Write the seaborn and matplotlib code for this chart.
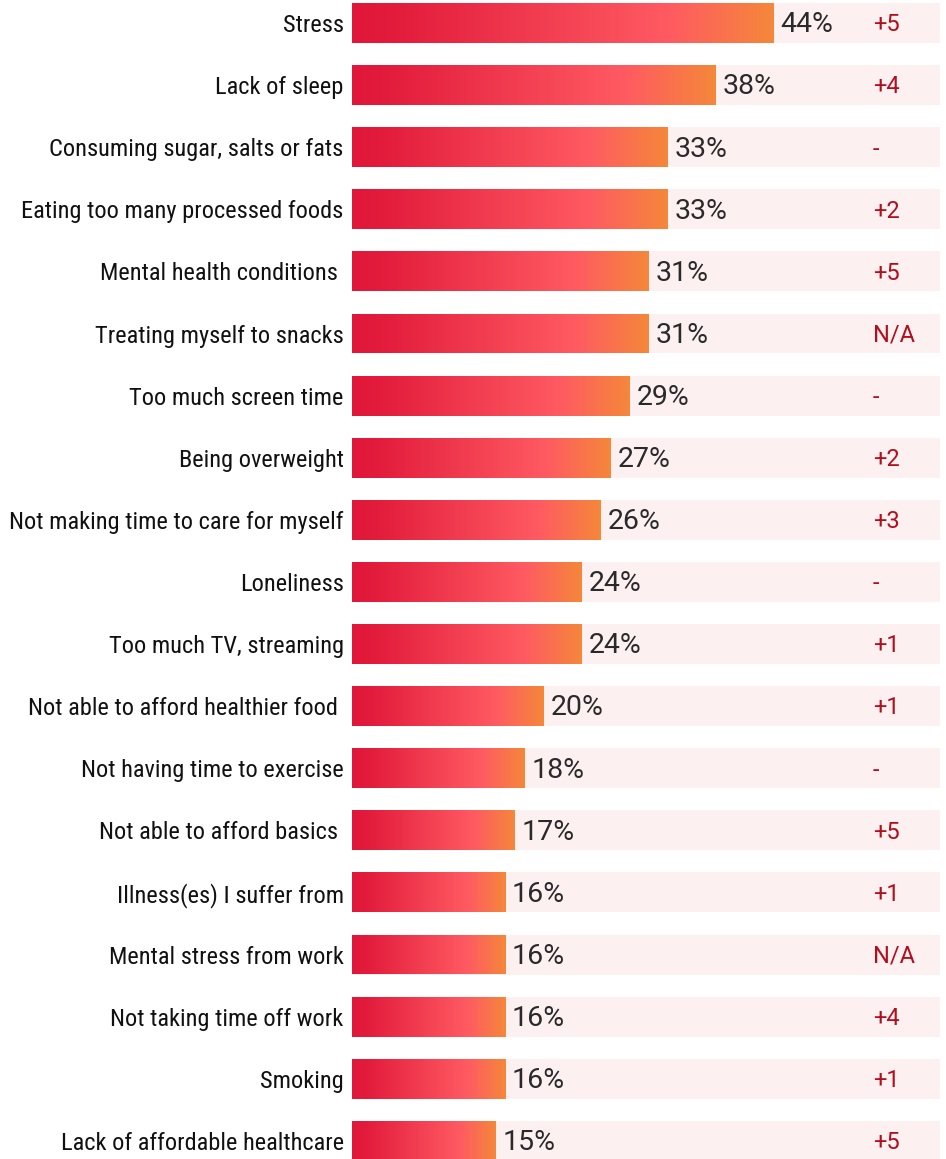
import numpy as np
import pandas as pd
import matplotlib
matplotlib.use("Agg")
import matplotlib.pyplot as plt
import seaborn as sns
from matplotlib.colors import LinearSegmentedColormap

categories = [
    "Stress", "Lack of sleep", "Consuming sugar, salts or fats",
    "Eating too many processed foods", "Mental health conditions ",
    "Treating myself to snacks", "Too much screen time", "Being overweight",
    "Not making time to care for myself", "Loneliness", "Too much TV, streaming",
    "Not able to afford healthier food ", "Not having time to exercise",
    "Not able to afford basics ", "Illness(es) I suffer from",
    "Mental stress from work", "Not taking time off work", "Smoking",
    "Lack of affordable healthcare",
]
values = [44, 38, 33, 33, 31, 31, 29, 27, 26, 24, 24, 20, 18, 17, 16, 16, 16, 16, 15]
changes = ["+5", "+4", "-", "+2", "+5", "N/A", "-", "+2", "+3", "-", "+1", "+1",
           "-", "+5", "+1", "N/A", "+4", "+1", "+5"]

df = pd.DataFrame({"cat": categories, "val": values})

sns.set_theme(style="white")
plt.rcParams["font.family"] = ["Roboto", "DejaVu Sans"]

W, H = 946, 1159
fig = plt.figure(figsize=(W / 100, H / 100), dpi=100)
px = 9.57  # pixels per percent
left_px = 352
ax = fig.add_axes([left_px / W, 0, 1 - left_px / W, 1])
xmax = (W - left_px) / px
pitch = 62.1
top_center = 23
ax.set_xlim(0, xmax)
ax.set_ylim((H - top_center) / pitch, -top_center / pitch)

bar_h = 40 / pitch
band_val = (940 - left_px) / px
band = pd.DataFrame({"cat": categories, "val": [band_val] * len(categories)})
sns.barplot(data=band, y="cat", x="val", color="#fdf0f0", width=bar_h,
            ax=ax, saturation=1, edgecolor="none", linewidth=0)
n0 = len(ax.patches)
sns.barplot(data=df, y="cat", x="val", color="#e21838", width=bar_h,
            ax=ax, saturation=1, edgecolor="none", linewidth=0)
bars = ax.patches[n0:]

cmap = LinearSegmentedColormap.from_list(
    "grad", [(0.0, "#e0173a"), (0.08, "#e21a3b"), (0.75, "#ff5a62"), (1.0, "#f5873a")])
grad = np.linspace(0, 1, 256).reshape(1, -1)
for p in bars:
    x0, y0 = p.get_x(), p.get_y()
    w, h = p.get_width(), p.get_height()
    im = ax.imshow(grad, cmap=cmap, aspect="auto",
                   extent=[x0, x0 + w, y0 + h, y0], zorder=3, interpolation="bilinear")
    im.set_clip_path(p)
    p.set_facecolor("none")

for i, (v, c) in enumerate(zip(values, changes)):
    ax.text(v + 0.72, i + 0.03, f"{v}%", va="center", ha="left",
            fontsize=20.5, color="#2a2a2a", zorder=4)
    ax.text((873 - left_px) / px, i + 0.03, c, va="center", ha="left",
            fontsize=17, color="#b10e1e", zorder=4)

ax.set_xlim(0, xmax)
ax.set_ylim((H - top_center) / pitch, -top_center / pitch)
ax.set_xlabel("")
ax.set_ylabel("")
ax.set_xticks([])
ax.tick_params(axis="y", length=0, pad=6)
for lab in ax.get_yticklabels():
    lab.set_fontfamily(["Roboto Condensed", "Archivo Narrow", "Barlow Semi Condensed", "DejaVu Sans"])
    lab.set_fontsize(17.6)
    lab.set_color("#111111")
for s in ax.spines.values():
    s.set_visible(False)

fig.savefig("out.png", dpi=100)
